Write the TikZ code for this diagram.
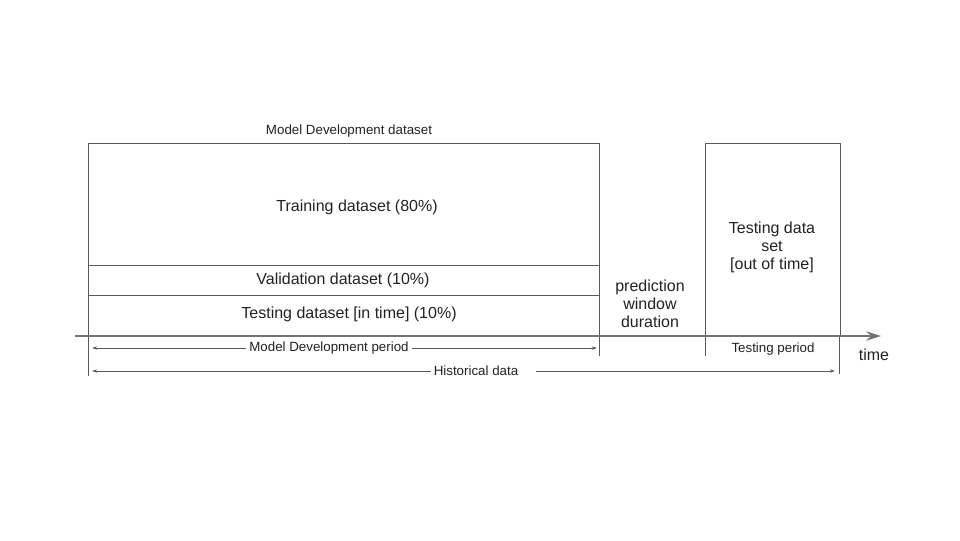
\documentclass[tikz,border=0pt]{standalone}
\usepackage{fontspec}
\setmainfont{Liberation Sans}
\usetikzlibrary{arrows.meta}
\definecolor{linec}{HTML}{595959}
\definecolor{axisc}{HTML}{737373}
\definecolor{txt}{HTML}{222222}
\begin{document}
\begin{tikzpicture}[x=0.75pt,y=-0.75pt,
  box/.style={draw=linec,line width=0.6pt},
  lbl/.style={text=txt,font=\fontsize{12}{13.6}\selectfont,inner sep=1pt},
  slbl/.style={text=txt,font=\fontsize{10}{12}\selectfont,inner sep=2pt,fill=white},
  tick/.style={draw=linec,line width=0.6pt},
  dim/.style={draw=linec,line width=0.5pt,-{Stealth[length=4pt,width=2.5pt]}}]
\useasboundingbox (0,0) rectangle (960,540);
% boxes
\draw[box] (88,143) rectangle (599,336);
\draw[box] (88,265) -- (599,265);
\draw[box] (88,295) -- (599,295);
\draw[box] (705,143) rectangle (840,336);
% labels
\node[lbl] (mdd) at (349,131) {\fontsize{10}{12}\selectfont Model Development dataset};
\node[lbl] (train) at (357,207) {Training dataset (80\%)};
\node[lbl] (valid) at (343,280) {Validation dataset (10\%)};
\node[lbl] (testin) at (349,314) {Testing dataset [in time] (10\%)};
\node[lbl,align=center] (pred) at (650,304) {prediction\\window\\duration};
\node[lbl,align=center] (testout) at (772,247) {Testing data\\set\\{}[out of time]};
% ticks
\coordinate (t1a) at (88,336); \coordinate (t1b) at (88,376);
\coordinate (t2a) at (599,336); \coordinate (t2b) at (599,356);
\coordinate (t3a) at (705,336); \coordinate (t3b) at (705,356);
\coordinate (t4a) at (839,336); \coordinate (t4b) at (839,374);
\draw[tick] (t1a) -- (t1b);
\draw[tick] (t2a) -- (t2b);
\draw[tick] (t3a) -- (t3b);
\draw[tick] (t4a) -- (t4b);
% axis
\coordinate (ax0) at (75,336);
\coordinate (ax1) at (881,336);
\draw[draw=axisc,line width=1.6pt,-{Stealth[length=11pt,width=7pt]}] (ax0) -- (ax1);
\node[lbl] (time) at (874,355) {time};
% periods
\node[slbl] (mdp) at (329,348) {Model Development period};
\coordinate (mdpL) at (92,348); \coordinate (mdpR) at (597,348);
\draw[dim] (mdp.west) -- (mdpL);
\draw[dim] (mdp.east) -- (mdpR);
\node[slbl] (tp) at (773,349) {Testing period};
\node[slbl] (hist) at (476,371) {Historical data};
\coordinate (hL) at (92,371); \coordinate (hR) at (835,371);
\draw[dim] (hist.west) -- (hL);
\draw[dim] ([xshift=11pt]hist.east) -- (hR);
\end{tikzpicture}
\end{document}
